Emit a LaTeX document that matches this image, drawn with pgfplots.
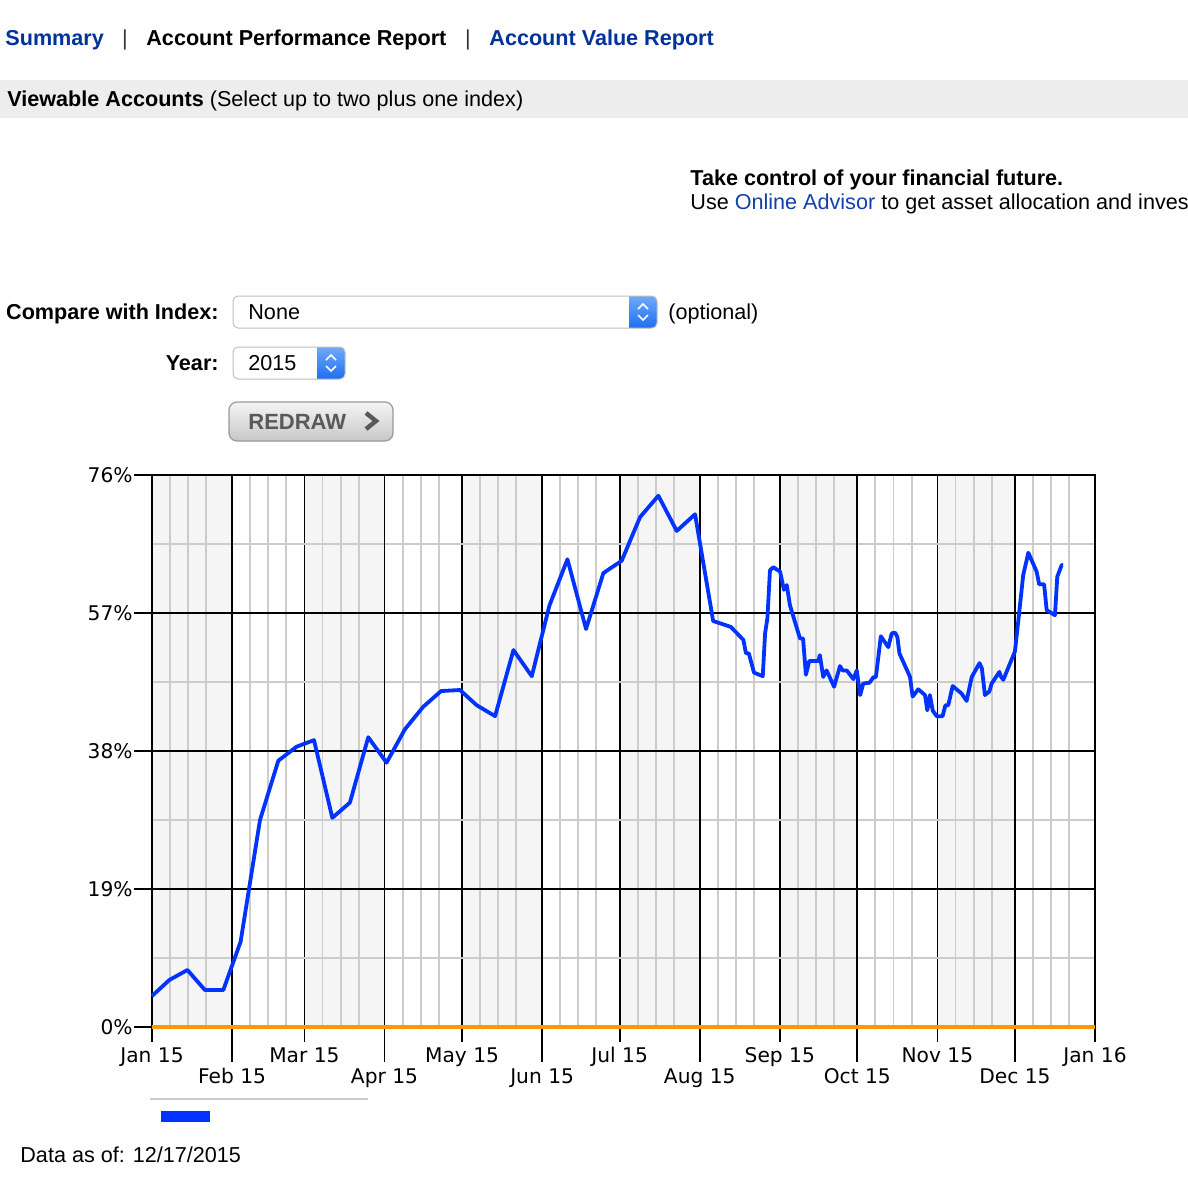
\documentclass[border=0pt]{standalone}
\usepackage{fontspec}
\setmainfont{Liberation Sans}
\newfontfamily\verd{DejaVu Sans}
\usepackage{pgfplots}
\pgfplotsset{compat=1.18}
\definecolor{navblue}{RGB}{0,51,153}
\definecolor{linkblue}{RGB}{16,64,170}
\definecolor{lineblue}{RGB}{0,51,255}
\definecolor{band}{RGB}{245,245,245}
\definecolor{mgrid}{RGB}{204,204,204}
\definecolor{zorange}{RGB}{255,153,0}
\definecolor{seltop}{RGB}{110,170,250}
\definecolor{selbot}{RGB}{30,110,240}
\newcommand\f{\fontsize{10.8pt}{13pt}\selectfont}
\newcommand\tf{\verd\fontsize{10.1pt}{12pt}\selectfont}

\pgfplotstableread{
day val
0 4.27
6.7 6.47
13.7 7.85
20.5 5.09
27.6 5.09
34.3 11.75
41.8 28.5
48.9 36.67
56 38.6
62.7 39.5
69.8 28.8
76.6 30.9
83.7 39.9
90.8 36.4
97.9 41.0
105 44.1
111.9 46.26
119.2 46.4
125.7 44.3
132.8 42.8
139.9 51.9
147 48.3
153.8 58.0
160.8 64.4
168 54.8
174.7 62.5
181.8 64.2
188.9 70.2
196 73.15
203.1 68.3
210.2 70.6
217.2 55.9
224 55.1
228.9 53.3
229.9 51.45
231 51.45
233 48.8
236.4 48.3
237.3 54.2
238.2 56.3
239.2 62.9
240.5 63.3
243.1 62.7
244.6 60.2
245.7 60.85
246.9 58.1
250.8 53.5
252 53.5
253.1 48.5
254.4 50.4
257.9 50.4
258.5 51.2
259.8 48.2
261.1 49.1
264 46.85
266.3 49.7
267.3 49.1
268.9 49.1
271.5 47.9
272.8 49.1
274.1 45.7
275.3 47.3
277.7 47.4
279.2 48.15
280.2 48.2
282.1 53.8
285 52.3
286.3 54.2
287.6 54.3
288.5 53.7
289.3 51.45
293.4 48.2
294.4 45.5
296.6 46.5
299.2 45.7
300.1 43.6
301.1 45.7
302.2 43.55
303.7 42.8
306 42.8
307.1 44.3
308.2 44.3
309.9 46.95
313.4 45.9
315.3 44.9
317.3 48.2
320.3 50.1
321.2 49.4
322.4 45.7
324.1 46.2
325 47.3
328 48.9
328.5 48.3
329.5 47.8
334 51.7
335.7 57.2
337.2 62.2
339.2 65.3
342.4 62.7
343.4 60.95
345.3 60.95
346.3 57.4
349.5 56.7
350.4 62.0
352.1 63.6
352.7 63.6
}\perf

\begin{document}
\begin{tikzpicture}
\begin{scope}[x=0.5pt,y=-0.5pt]
  \clip (0,0) rectangle (1188,1200);
  % header
  \node[anchor=base west, inner sep=0, text=navblue, font=\f\bfseries] at (5,45) {Summary};
  \node[anchor=base, inner sep=0, text=black!80, font=\f] at (125,45) {|};
  \node[anchor=base west, inner sep=0, text=black, font=\f\bfseries] at (146,45) {Account Performance Report};
  \node[anchor=base, inner sep=0, text=black!80, font=\f] at (468,45) {|};
  \node[anchor=base west, inner sep=0, text=navblue, font=\f\bfseries] at (489,45) {Account Value Report};
  \fill[black!7] (0,80) rectangle (1188,118);
  \node[anchor=base west, inner sep=0, font=\f] at (7,106) {\textbf{Viewable Accounts} (Select up to two plus one index)};
  \node[anchor=base west, inner sep=0, font=\f\bfseries] at (690,185) {Take control of your financial future.};
  \node[anchor=base west, inner sep=0, font=\f] at (690,209) {Use \textcolor{linkblue}{Online Advisor} to get asset allocation and inves};
  % form
  \node[anchor=base east, inner sep=0, font=\f\bfseries] at (219,319) {Compare with Index:};
  \begin{scope}
    \clip[rounded corners=2.5pt] (233,296) rectangle (657,328);
    \fill[white] (233,296) rectangle (657,328);
    \shade[top color=seltop, bottom color=selbot] (629,296) rectangle (657,328);
  \end{scope}
  \draw[black!25, line width=0.5pt, rounded corners=2.5pt] (233,296) rectangle (657,328);
  \draw[white, line width=0.8pt] (638,309) -- (643,304) -- (648,309);
  \draw[white, line width=0.8pt] (638,315) -- (643,320) -- (648,315);
  \node[anchor=base west, inner sep=0, font=\f] at (248,319) {None};
  \node[anchor=base west, inner sep=0, font=\f] at (668,319) {(optional)};
  \node[anchor=base east, inner sep=0, font=\f\bfseries] at (219,370) {Year:};
  \begin{scope}
    \clip[rounded corners=2.5pt] (233,347) rectangle (345,379);
    \fill[white] (233,347) rectangle (345,379);
    \shade[top color=seltop, bottom color=selbot] (317,347) rectangle (345,379);
  \end{scope}
  \draw[black!25, line width=0.5pt, rounded corners=2.5pt] (233,347) rectangle (345,379);
  \draw[white, line width=0.8pt] (326,360) -- (331,355) -- (336,360);
  \draw[white, line width=0.8pt] (326,366) -- (331,371) -- (336,366);
  \node[anchor=base west, inner sep=0, font=\f] at (248,370) {2015};
  % redraw button
  \shade[rounded corners=4pt, top color=black!4, bottom color=black!22] (229,402) rectangle (393,441);
  \draw[rounded corners=4pt, black!40, line width=0.6pt] (229,402) rectangle (393,441);
  \node[anchor=base west, inner sep=0, text=black!65, font=\fontsize{11pt}{13pt}\selectfont\bfseries] at (248,429) {REDRAW};
  \draw[black!65, line width=2.2pt, line cap=butt, line join=miter] (366,413) -- (376,421) -- (366,429);
  % below chart
  \draw[mgrid, line width=0.75pt] (150,1099) -- (368,1099);
  \fill[lineblue] (161,1111) rectangle (210,1122);
  \node[anchor=base west, inner sep=0, font=\f] at (20,1162) {Data as of: 12/17/2015};
\end{scope}

\begin{axis}[
  set layers,
  at={(76pt,-513.5pt)}, anchor=south west,
  scale only axis, width=471.5pt, height=276pt,
  xmin=0, xmax=365, ymin=0, ymax=76,
  axis line style={black, line width=0.9pt},
  xtick={0,59,120,181,243,304,365},
  xticklabels={Jan 15,Mar 15,May 15,Jul 15,Sep 15,Nov 15,Jan 16},
  extra x ticks={31,90,151,212,273,334},
  extra x tick labels={Feb 15,Apr 15,Jun 15,Aug 15,Oct 15,Dec 15},
  extra x tick style={grid=major, xticklabel style={yshift=-10.5pt}},
  minor xtick={7,14,21,38,45,52,66,73,80,97,104,111,127,134,141,158,165,172,188,195,202,219,226,233,250,257,264,280,287,294,311,318,325,341,348,355},
  ytick={0,19,38,57,76},
  yticklabels={0\%,19\%,38\%,57\%,76\%},
  minor ytick={9.5,28.5,47.5,66.5},
  grid=both,
  major grid style={black, line width=0.9pt},
  minor grid style={mgrid, line width=0.95pt},
  major tick length=0pt, minor tick length=0pt,
  xticklabel style={font=\tf, anchor=north, inner sep=0pt, yshift=-10pt, text height=7.4pt, text depth=0pt},
  yticklabel style={font=\tf, anchor=east, inner sep=0pt, xshift=-9.5pt},
  clip=false,
]
\begin{pgfonlayer}{axis background}
  \fill[band] (axis cs:0,0) rectangle (axis cs:31,76);
  \fill[band] (axis cs:59,0) rectangle (axis cs:90,76);
  \fill[band] (axis cs:120,0) rectangle (axis cs:151,76);
  \fill[band] (axis cs:181,0) rectangle (axis cs:212,76);
  \fill[band] (axis cs:243,0) rectangle (axis cs:273,76);
  \fill[band] (axis cs:304,0) rectangle (axis cs:334,76);
\end{pgfonlayer}
\pgfplotsinvokeforeach{0,59,120,181,243,304,365}{\draw[black, line width=0.9pt] (axis cs:#1,0) -- ++(0pt,-7.5pt);}
\pgfplotsinvokeforeach{31,90,151,212,273,334}{\draw[black, line width=0.9pt] (axis cs:#1,0) -- ++(0pt,-17.5pt);}
\pgfplotsinvokeforeach{0,19,38,57,76}{\draw[black, line width=0.9pt] (axis cs:0,#1) -- ++(-9pt,0pt);}
\addplot[lineblue, line width=1.9pt, line join=round, mark=none] table[x=day, y=val] {\perf};
\addplot[zorange, line width=1.6pt, mark=none, on layer=axis foreground] coordinates {(0,0) (365,0)};
\end{axis}
\pgfresetboundingbox
\useasboundingbox (0,0) rectangle (594pt,-600pt);
\end{tikzpicture}
\end{document}
